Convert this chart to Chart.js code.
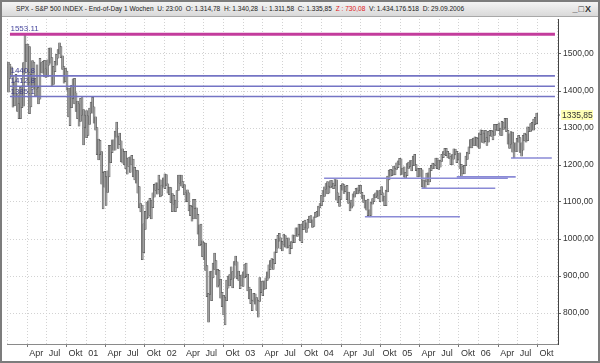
<!DOCTYPE html>
<html>
<head>
<meta charset="utf-8">
<script src="https://cdn.jsdelivr.net/npm/chart.js@4/dist/chart.umd.min.js"></script>
<style>
html,body{margin:0;padding:0;background:#fff;}
#wrap{position:relative;width:600px;height:363px;overflow:hidden;background:#fff;}
#c{position:absolute;left:0;top:0;}
#frame{position:absolute;left:0;top:0;width:596px;height:359px;border:2px solid #7c7c7c;pointer-events:none;}
#hdr{position:absolute;left:2px;top:2px;width:596px;height:15px;background:linear-gradient(#f4f4f4,#d9d9d9);border-bottom:1px solid #a8a8a8;box-sizing:border-box;}
#hdrtxt{position:absolute;left:14px;top:3px;font:6.6px "Liberation Sans",Arial,sans-serif;color:#222;white-space:pre;line-height:8px;}
#hdrtxt .r{color:#e02020;}
#btns{position:absolute;right:6px;top:1px;font:bold 9px "Liberation Sans",Arial,sans-serif;color:#333;letter-spacing:1px;line-height:12px;}
</style>
</head>
<body>
<div id="wrap">
<canvas id="c" width="600" height="363"></canvas>
<div id="hdr"><span id="hdrtxt">SPX - S&amp;P 500 INDEX - End-of-Day 1 Wochen  U: 23:00  O: 1.314,78  H: 1.340,28  L: 1.311,58  C: 1.335,85  <span class="r">Z : 730,08</span>  V: 1.434.176.518  D: 29.09.2006</span><span id="btns">_□X</span></div>
<div id="frame"></div>
</div>
<script>
// ---- weekly categories: first trading week (mid-week date) of Jan 2000, 352 weeks ----
const firstWeekMid = Date.UTC(2000, 0, 5);
const weekCount = 352;

// ---- weekly highs / lows (S&P 500) ----
const hi2000 = [1478,1473,1465,1441,1425,1445,1390,1366,1410,1414,1477,1553,1527,1527,1520,1445,1482,1478,1434,1471,1410,1488,1477,1480,1483,1460,1484,1516,1517,1490,1467,1480,1499,1512,1530,1520,1495,1466,1461,1454,1408,1408,1415,1433,1434,1395,1373,1365,1380,1382,1350,1335];
const lo2000 = [1397,1434,1438,1356,1360,1385,1345,1325,1325,1355,1359,1448,1480,1416,1339,1357,1410,1405,1387,1405,1365,1378,1450,1448,1438,1437,1438,1470,1475,1413,1418,1452,1470,1489,1500,1490,1458,1421,1425,1402,1330,1306,1355,1379,1365,1345,1325,1305,1318,1335,1254,1301];
const hi2001 = [1347,1333,1354,1370,1383,1357,1330,1301,1270,1267,1236,1180,1183,1169,1184,1253,1253,1268,1268,1292,1316,1278,1286,1265,1244,1237,1237,1219,1220,1222,1226,1216,1194,1186,1185,1142,1096,1092,1041,1075,1100,1103,1110,1105,1125,1148,1152,1152,1173,1160,1146,1165];
const lo2001 = [1274,1280,1310,1340,1340,1313,1294,1228,1214,1228,1148,1081,1140,1091,1126,1168,1206,1233,1240,1240,1275,1245,1255,1208,1205,1200,1190,1175,1196,1180,1200,1168,1160,1151,1124,1084,1073,944,963,1026,1054,1058,1064,1054,1085,1113,1131,1121,1133,1114,1118,1140];
const hi2002 = [1176,1174,1149,1140,1139,1123,1118,1105,1131,1173,1173,1173,1155,1147,1125,1133,1125,1091,1088,1107,1107,1084,1067,1038,1040,995,990,989,928,853,912,913,935,962,942,918,915,891,856,848,843,889,900,904,925,912,939,954,938,913,901,903];
const lo2002 = [1136,1145,1124,1120,1098,1074,1094,1074,1084,1131,1151,1143,1139,1119,1100,1101,1076,1063,1048,1054,1082,1054,1013,981,985,952,945,915,844,775,850,833,895,918,904,870,875,840,817,795,768,833,867,873,891,868,894,929,892,888,866,873];
const hi2003 = [911,932,935,905,870,864,835,853,852,842,835,896,886,885,887,895,911,930,942,947,945,965,1000,1010,1015,1003,994,1013,1009,1001,1003,982,993,1011,1009,1030,1030,1040,1039,1039,1048,1051,1044,1053,1062,1063,1052,1060,1072,1075,1089,1096];
const lo2003 = [872,895,898,860,838,825,806,832,824,807,789,831,855,847,864,865,888,894,917,924,918,933,963,975,994,973,968,984,978,975,976,960,974,990,990,1008,1007,1012,995,990,1025,1030,1018,1029,1045,1045,1031,1034,1058,1060,1062,1084];
const hi2004 = [1118,1131,1141,1150,1155,1143,1158,1158,1151,1163,1160,1125,1115,1145,1150,1147,1143,1145,1127,1098,1105,1122,1128,1137,1138,1146,1145,1126,1119,1105,1104,1108,1079,1100,1109,1120,1125,1131,1130,1132,1142,1125,1116,1132,1170,1186,1188,1186,1197,1192,1206,1211,1218];
const lo2004 = [1090,1101,1115,1135,1122,1124,1138,1142,1136,1144,1105,1098,1088,1107,1132,1123,1128,1106,1096,1076,1083,1089,1113,1122,1122,1130,1123,1110,1099,1083,1078,1063,1060,1064,1094,1101,1111,1116,1108,1101,1120,1102,1090,1090,1127,1160,1170,1171,1173,1173,1188,1193,1200];
const hi2005 = [1217,1192,1195,1180,1204,1208,1212,1212,1224,1229,1201,1190,1191,1191,1187,1159,1160,1178,1179,1192,1199,1205,1203,1219,1219,1213,1213,1229,1236,1245,1245,1237,1232,1223,1228,1244,1243,1237,1231,1233,1202,1196,1199,1224,1235,1249,1269,1270,1273,1276,1275,1272];
const lo2005 = [1173,1175,1167,1163,1171,1191,1196,1184,1198,1199,1185,1168,1168,1170,1141,1137,1136,1154,1146,1154,1185,1191,1191,1198,1190,1188,1194,1210,1220,1228,1225,1219,1218,1201,1200,1216,1227,1206,1214,1191,1168,1176,1176,1198,1215,1230,1246,1246,1253,1253,1253,1248];
const hi2006 = [1287,1295,1294,1286,1294,1274,1291,1294,1294,1290,1310,1310,1310,1314,1300,1318,1316,1326,1326,1294,1284,1290,1289,1260,1260,1272,1280,1274,1260,1280,1286,1282,1303,1301,1312,1315,1324,1329,1340];
const lo2006 = [1245,1282,1261,1259,1263,1253,1262,1280,1277,1268,1280,1295,1292,1293,1280,1280,1296,1300,1290,1256,1245,1256,1235,1219,1237,1237,1262,1234,1224,1240,1265,1262,1266,1290,1291,1294,1294,1309,1312];

const weeklyHigh = [...hi2000,...hi2001,...hi2002,...hi2003,...hi2004,...hi2005,...hi2006];
const weeklyLow  = [...lo2000,...lo2001,...lo2002,...lo2003,...lo2004,...lo2005,...lo2006];

// ---- horizontal levels (values, labels, start/end in fractional years) ----
const levelValues = [1553.11, 1440.8, 1412.8, 1385.1];
const levelLabels = ['1553.11', '1440.8', '1412.8', '1385.1'];
const levelFrom = 2000.03, levelTo = 2006.97;
const supportValues = [1164, 1168, 1137, 1060, 1219];
const supportFrom   = [2004.03, 2005.72, 2005.27, 2004.55, 2006.41];
const supportTo     = [2006.37, 2006.47, 2006.21, 2005.76, 2006.93];
const lastClose = 1335.85;

// ---- y tick values and month labels ----
const yTickValues = [800, 900, 1000, 1100, 1200, 1300, 1400, 1500];
const monthNames = {0: null, 3: 'Apr', 6: 'Jul', 9: 'Okt'};

function fracYear(ms) {
  const d = new Date(ms);
  const y = d.getUTCFullYear();
  const s = Date.UTC(y, 0, 1), e = Date.UTC(y + 1, 0, 1);
  return y + (ms - s) / (e - s);
}
const weekX = [];
for (let i = 0; i < weekCount; i++) weekX.push(fracYear(firstWeekMid + i * 7 * 86400000));

const barData = weekX.map((x, i) => ({x: x, y: [weeklyLow[i], weeklyHigh[i]]}));

const pxPerYear = 78.53, x2000 = 7.6, areaLeft = 7, areaRight = 558, areaTop = 19, areaBottom = 344;
const yPer = 0.37, y800 = 313;
const xMin = 2000 + (areaLeft - x2000) / pxPerYear;
const xMax = 2000 + (areaRight - x2000) / pxPerYear;

const quarterTicks = [];
for (let y = 2000; y <= 2007; y++) {
  for (const m of [0, 3, 6, 9]) {
    const v = fracYear(Date.UTC(y, m, 1));
    if (v >= xMin && v <= xMax) quarterTicks.push({value: v, m: m, y: y});
  }
}
function tickInfo(v) {
  let best = null;
  for (const t of quarterTicks) if (Math.abs(t.value - v) < 1e-6) best = t;
  return best;
}

const datasets = [];
datasets.push({
  type: 'line', order: 0,
  data: [{x: levelFrom, y: levelValues[0]}, {x: levelTo, y: levelValues[0]}],
  borderColor: '#c33c9c', borderWidth: 3, pointRadius: 0, fill: false
});
for (let k = 1; k < levelValues.length; k++) {
  datasets.push({
    type: 'line', order: 1,
    data: [{x: levelFrom, y: levelValues[k]}, {x: levelTo, y: levelValues[k]}],
    borderColor: '#7474c4', borderWidth: 1.6, pointRadius: 0, fill: false
  });
}
for (let k = 0; k < supportValues.length; k++) {
  datasets.push({
    type: 'line', order: 1,
    data: [{x: supportFrom[k], y: supportValues[k]}, {x: supportTo[k], y: supportValues[k]}],
    borderColor: '#8a8ad6', borderWidth: 1.6, pointRadius: 0, fill: false
  });
}
datasets.push({
  type: 'bar', order: 5,
  data: barData,
  backgroundColor: '#a0a0a0', borderColor: '#444', borderWidth: 0.5,
  barThickness: 2, borderSkipped: false
});

const overlay = {
  id: 'overlay',
  afterDatasetsDraw(chart) {
    const ctx = chart.ctx, ys = chart.scales.y, xs = chart.scales.x;
    ctx.save();
    ctx.font = '8px "Liberation Sans", Arial, sans-serif';
    ctx.textBaseline = 'bottom';
    ctx.textAlign = 'left';
    for (let k = 0; k < levelValues.length; k++) {
      const py = ys.getPixelForValue(levelValues[k]);
      ctx.fillStyle = k === 0 ? '#4a4aa0' : '#3c3c8c';
      ctx.fillText(levelLabels[k], xs.getPixelForValue(levelFrom) + 0.5, py - (k === 0 ? 2 : 1));
    }
    ctx.restore();
  },
  afterDraw(chart) {
    const ctx = chart.ctx, ys = chart.scales.y;
    const py = Math.round(ys.getPixelForValue(lastClose));
    const x0 = chart.chartArea.right;
    ctx.save();
    ctx.fillStyle = '#ffffb4';
    ctx.fillRect(x0 + 3, py - 5, 32, 10);
    ctx.fillStyle = '#444';
    ctx.fillRect(x0, py - 0.5, 2, 1);
    ctx.font = '8.5px "Liberation Sans", Arial, sans-serif';
    ctx.fillStyle = '#333';
    ctx.textBaseline = 'middle';
    ctx.textAlign = 'left';
    ctx.fillText(lastClose.toFixed(2).replace('.', ','), x0 + 4, py + 0.5);
    ctx.restore();
  }
};

new Chart(document.getElementById('c'), {
  type: 'bar',
  data: {datasets: datasets},
  options: {
    responsive: false, animation: false,
    layout: {padding: {left: areaLeft, top: areaTop, right: 0, bottom: 0}},
    plugins: {legend: {display: false}, tooltip: {enabled: false}},
    scales: {
      x: {
        type: 'linear', offset: false,
        min: xMin, max: xMax,
        afterFit(s) { s.height = 363 - areaBottom; s.paddingLeft = 0; s.paddingRight = 0; },
        afterBuildTicks(s) { s.ticks = quarterTicks.map(t => ({value: t.value})); },
        grid: {
          offset: false, drawOnChartArea: true, color: '#d2d2d2', lineWidth: 1,
          tickLength: 3,
          tickColor: (c) => { const t = c.tick && tickInfo(c.tick.value); return t && (t.m === 3 || t.m === 9) ? '#777' : 'rgba(0,0,0,0)'; }
        },
        border: {display: true, color: '#8a8a8a', width: 1, dash: [1, 2]},
        ticks: {
          autoSkip: false, maxRotation: 0, align: 'start', labelOffset: 2, padding: 1,
          color: '#333', font: {family: '"Liberation Sans", Arial, sans-serif', size: 9},
          callback(v) {
            const t = tickInfo(v);
            if (!t) return '';
            if (t.m === 0) return (t.y === 2000 || t.y === 2007) ? '' : String(t.y % 100).padStart(2, '0');
            return monthNames[t.m];
          }
        }
      },
      y: {
        position: 'right',
        min: 800 - (areaBottom - y800) / yPer,
        max: 800 + (y800 - areaTop) / yPer,
        afterFit(s) { s.width = 600 - areaRight; s.paddingTop = 0; s.paddingBottom = 0; },
        afterBuildTicks(s) { s.ticks = yTickValues.map(v => ({value: v})); },
        grid: {color: '#d2d2d2', lineWidth: 1, tickLength: 3, tickColor: '#666'},
        border: {display: true, color: '#444', width: 1, dash: [1, 2]},
        ticks: {
          padding: 2, color: '#333',
          font: {family: '"Liberation Sans", Arial, sans-serif', size: 8.5},
          callback(v) { return v.toFixed(2).replace('.', ','); }
        }
      }
    }
  },
  plugins: [overlay]
});
</script>
</body>
</html>
